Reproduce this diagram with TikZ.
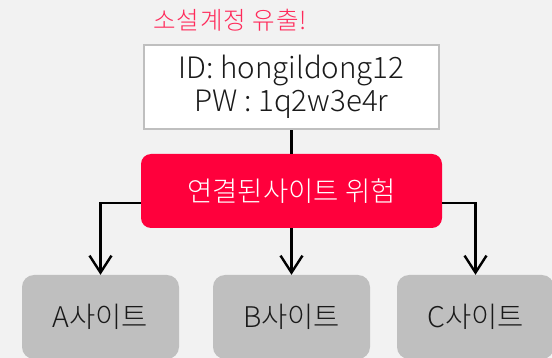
\documentclass[tikz,border=0pt]{standalone}
\usepackage{fontspec}
\setmainfont{Noto Sans CJK KR}[UprightFont=* Light]
\usetikzlibrary{arrows.meta}
\definecolor{bgc}{HTML}{F2F2F2}
\definecolor{riskred}{HTML}{FF003C}
\definecolor{titlered}{HTML}{FF2A5A}
\definecolor{boxgray}{HTML}{BFBFBF}
\definecolor{txt}{HTML}{1A1A1A}
\tikzset{
  idstyle/.style={draw=boxgray, line width=2.5pt, fill=white, minimum width=295pt, minimum height=84pt, inner sep=0pt, align=center, text=txt, font=\fontsize{29.5}{33}\selectfont},
  riskstyle/.style={fill=riskred, rounded corners=10pt, minimum width=301pt, minimum height=74pt, inner sep=0pt, text=white, font=\fontsize{27.5}{30}\selectfont},
  sitestyle/.style={fill=boxgray, rounded corners=12pt, minimum width=157pt, minimum height=84pt, inner sep=0pt, text=txt, font=\fontsize{28.5}{32}\selectfont},
  arr/.style={line width=2.4pt, -{Straight Barb[length=17pt, width=22pt, line width=2.4pt]}},
  conn/.style={line width=2.4pt}
}
\begin{document}
\begin{tikzpicture}[x=1pt, y=-1pt]
\fill[bgc] (0,0) rectangle (552,358);
\useasboundingbox (0,0) rectangle (552,358);
\node[text=titlered, font=\fontsize{24.5}{28}\selectfont\addfontfeatures{LetterSpace=4}] (title) at (230,20) {소설계정 유출!};
\node[idstyle] (id) at (291.5,87) {\raisebox{-2pt}{ID: hongildong12}\\\raisebox{-2pt}{PW : 1q2w3e4r}};
\node[riskstyle] (risk) at (291.5,191) {연결된사이트 위험};
\node[sitestyle] (A) at (100.5,317) {A사이트};
\node[sitestyle] (B) at (291.5,317) {B사이트};
\node[sitestyle] (C) at (475.5,317) {C사이트};
\draw[conn] (id.south) -- (risk.north);
\draw[arr] ([yshift=-12pt]risk.west) -| (A.north);
\draw[arr] (risk.south) -- (B.north);
\draw[arr] ([yshift=-12pt]risk.east) -| (C.north);
\end{tikzpicture}
\end{document}
